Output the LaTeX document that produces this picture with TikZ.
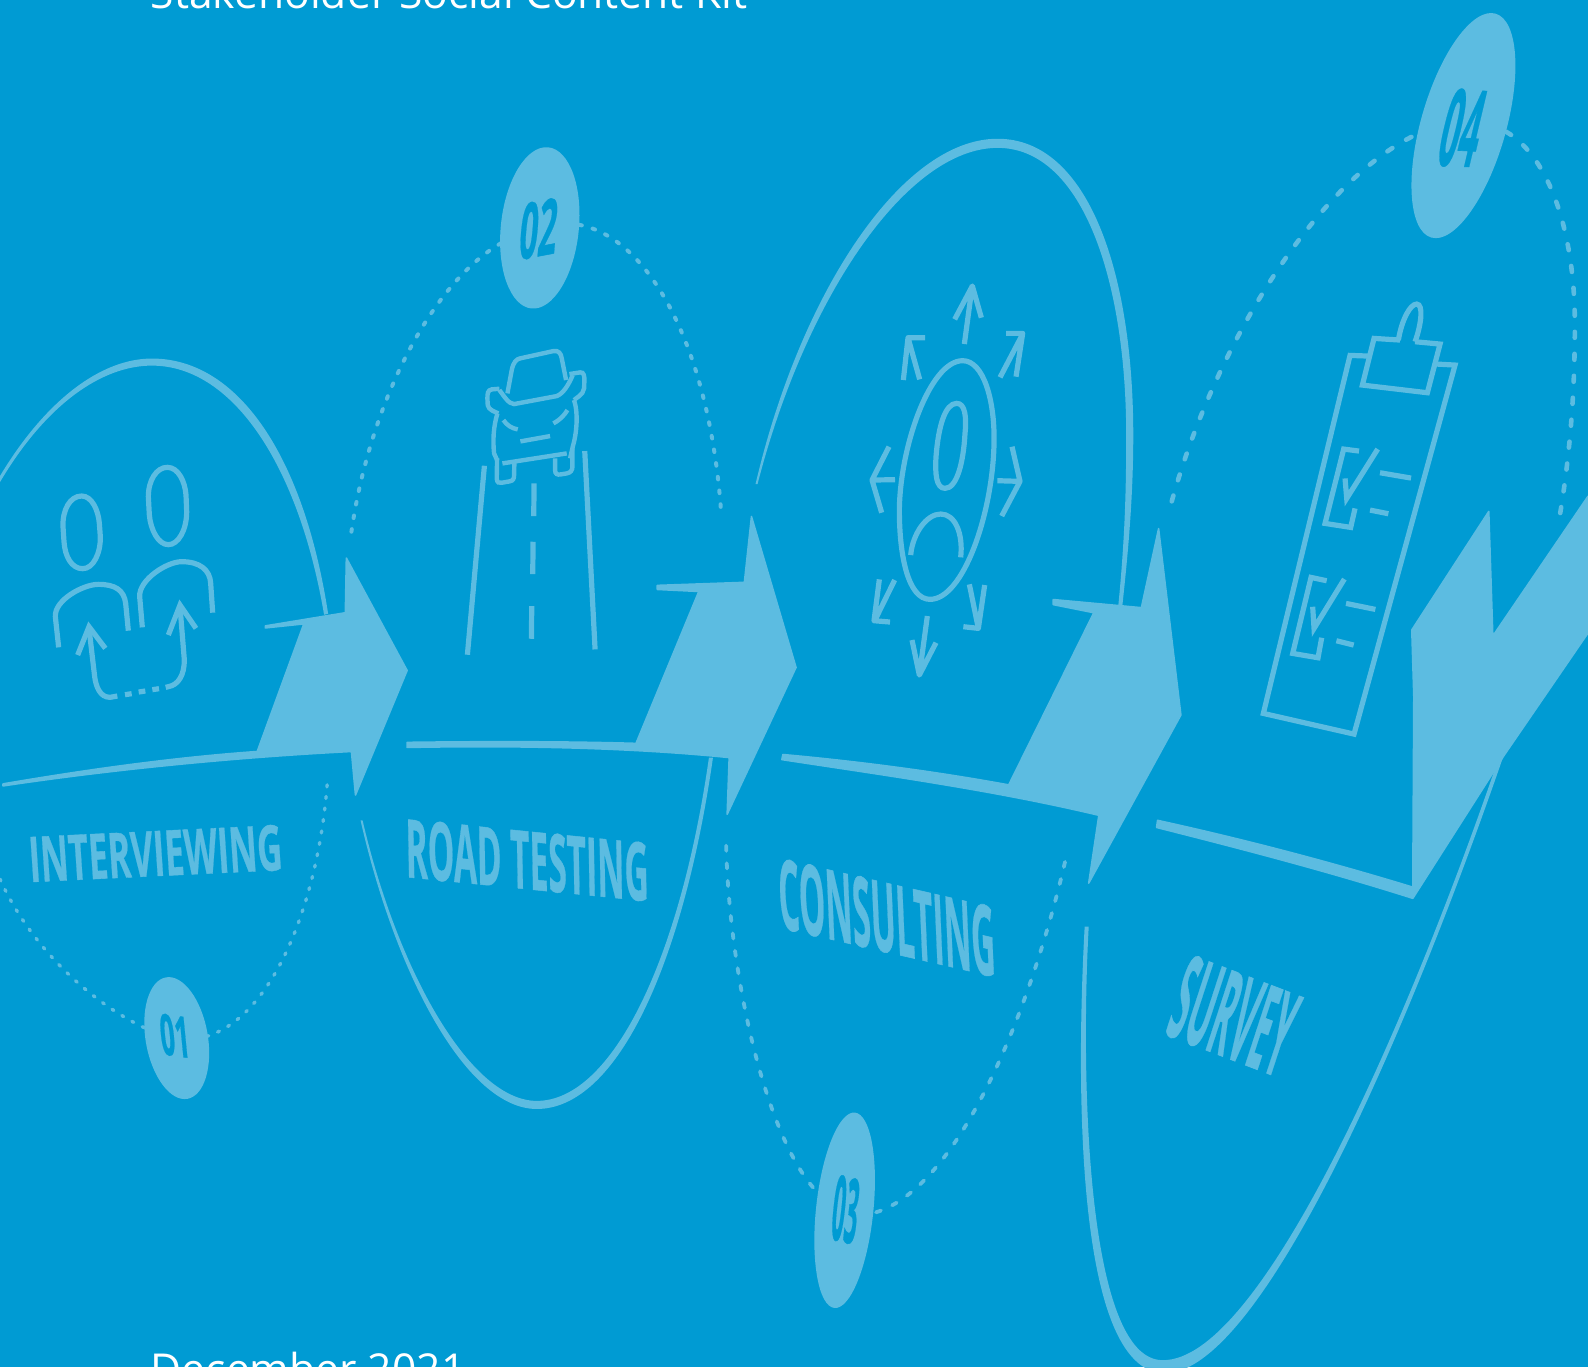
\documentclass[tikz,border=0pt]{standalone}
\usepackage{fontspec}
\setmainfont{Open Sans}
\definecolor{bgblue}{HTML}{009BD3}
\definecolor{lightblue}{HTML}{5CBCE1}
\newsavebox{\skbox}
% name, colour, text, bx0,by0,bx1,by1,ux,uy
\newcommand{\skewlabel}[9]{%
  \sbox{\skbox}{\pgfinterruptpicture\fontsize{20}{24}\selectfont\bfseries\addfontfeatures{FakeBold=0.6}\color{#2}#3\endpgfinterruptpicture}%
  \pgfmathsetmacro{\skA}{0.50637*(#6-#4)/\the\wd\skbox}%
  \pgfmathsetmacro{\skB}{-0.50637*(#7-#5)/\the\wd\skbox}%
  \pgfmathsetmacro{\skC}{0.50637*(#8)/\the\ht\skbox}%
  \pgfmathsetmacro{\skD}{-0.50637*(#9)/\the\ht\skbox}%
  \begin{scope}[cm={\skA,\skB,\skC,\skD,(#4,#5)}]
    \node[transform shape,inner sep=0pt,outer sep=0pt,anchor=base west,text=#2] (#1) at (0,0) {\usebox{\skbox}};
  \end{scope}}
\tikzset{
  icon/.style={draw=lightblue,line width=2.6pt,line join=miter,fill=none},
  iconthin/.style={icon,line width=2.2pt},
  solidshape/.style={fill=lightblue,draw=none},
  arrowshape/.style={fill=lightblue,draw=lightblue,line width=0.8pt,line join=round},
  dotsA/.style={draw=lightblue,line cap=round,line width=1.7pt,dash pattern=on 1pt off 4.8pt},
  dotsB/.style={draw=lightblue,line cap=round,line width=2pt,dash pattern=on 1.3pt off 5.6pt},
  dotsC/.style={draw=lightblue,line cap=round,line width=1.9pt,dash pattern=on 2.6pt off 6.2pt},
  dotsD/.style={draw=lightblue,line cap=round,line width=2.3pt,dash pattern=on 3pt off 8pt},
  badge/.style={fill=lightblue,draw=none},
  whitetext/.style={inner sep=0pt,anchor=base west,text=white,font=\fontsize{21.3}{25}\selectfont}
}
\begin{document}
\begin{tikzpicture}[x=0.50637pt,y=-0.50637pt]
\useasboundingbox (0,0) rectangle (1568,1349.8);
\fill[bgblue] (0,0) rectangle (1568,1349.8);
\clip (0,0) rectangle (1568,1349.8);

% white texts
\node[whitetext] (title) at (148.5,8) {Stakeholder Social Content Kit};
\node[whitetext] (date) at (148.5,1366.7) {December 2021};

% solid arcs
\fill[solidshape] (0,470) .. controls (45,395) and (100,354) .. (150,354) .. controls (235,354) and (300,450) .. (324,606) -- (320,607) .. controls (295,460) and (230,361) .. (150,361) .. controls (100,361) and (45,400) .. (0,476) -- cycle;
\fill[solidshape] (356,810) .. controls (390,960) and (460,1095) .. (530,1095) .. controls (610,1095) and (675,950) .. (704,748) -- (700,748) .. controls (672,945) and (605,1087) .. (530,1087) .. controls (465,1087) and (393,960) .. (358,810) -- cycle;
\fill[solidshape] (746,478) .. controls (790,290) and (890,137) .. (985,137) .. controls (1075,137) and (1119,270) .. (1119,430) .. controls (1119,490) and (1114,545) .. (1108,600) -- (1104,600) .. controls (1111,530) and (1112,480) .. (1112,430) .. controls (1112,280) and (1070,146) .. (985,146) .. controls (895,146) and (795,295) .. (748,478) -- cycle;
\fill[solidshape] (1071,915) .. controls (1063,1060) and (1060,1355) .. (1150,1356) .. controls (1245,1356) and (1390,1020) .. (1484,748) -- (1480,748) .. controls (1388,1016) and (1244,1344) .. (1148,1343) .. controls (1072,1343) and (1067,1060) .. (1075,915) -- cycle;

% dotted arcs
\draw[dotsA] (323,775) .. controls (315,880) and (275,1000) .. (205,1023);
\draw[dotsA] (0,868) .. controls (30,935) and (90,990) .. (143,1015);
\draw[dotsB] (347,525) .. controls (365,400) and (425,280) .. (495,240);
\draw[dotsB] (572,222) .. controls (640,235) and (700,340) .. (712,505);
\draw[dotsC] (717,835) .. controls (720,960) and (755,1120) .. (805,1175);
\draw[dotsC] (865,1197) .. controls (950,1170) and (1020,990) .. (1053,845);
\draw[dotsD] (1157,495) .. controls (1200,340) and (1300,180) .. (1398,133);
\draw[dotsD] (1487,130) .. controls (1530,155) and (1555,230) .. (1555,320) .. controls (1555,390) and (1550,450) .. (1540,510);

% arrows
\filldraw[arrowshape] (262,618) -- (341,605) -- (342,551) -- (402,662) -- (351,785) -- (347,742) .. controls (230,748) and (110,760) .. (3,776) -- (3,774) .. controls (85,760) and (170,748) .. (254,742) -- (300,616) -- (262,620) -- cycle;
\filldraw[arrowshape] (649,578) -- (735,575) -- (742,510) -- (786,659) -- (718,804) -- (720,748) .. controls (620,738) and (510,736) .. (402,738) -- (402,733) .. controls (480,732) and (560,732) .. (628,734) -- (690,584) -- (649,582) -- cycle;
\filldraw[arrowshape] (1040,592) -- (1127,600) -- (1144,522) -- (1166,706) -- (1075,872) -- (1085,805) .. controls (980,780) and (870,765) .. (772,750) -- (773,745) .. controls (850,752) and (925,762) .. (996,775) -- (1080,605) -- (1040,597) -- cycle;
\filldraw[arrowshape] (1470,505) -- (1474,628) -- (1568,490) -- (1568,625) -- (1485,746) -- (1395,887) .. controls (1310,860) and (1225,838) .. (1142,817) -- (1143,810) .. controls (1225,828) and (1310,850) .. (1395,876) -- (1396,688) -- (1394,622) -- cycle;

% badges
\fill[badge] (174.5,1025) ellipse [x radius=30.7,y radius=60.9,rotate=10];
\fill[badge] (533,225) ellipse [x radius=38.5,y radius=80,rotate=-6];
\fill[badge] (834,1195) ellipse [x radius=28.3,y radius=97,rotate=-6];
\fill[badge] (1445,124) ellipse [x radius=42,y radius=115,rotate=-16];

% labels
\skewlabel{lab1}{lightblue}{INTERVIEWING}{30}{871}{280}{859}{-3}{-45}
\skewlabel{lab2}{lightblue}{ROAD TESTING}{401}{866}{641}{890}{-1}{-58}
\skewlabel{lab3}{lightblue}{CONSULTING}{770}{916}{984}{965}{-3}{-70}
\skewlabel{lab4}{lightblue}{SURVEY}{1149}{1021}{1262}{1064}{26}{-80}
\skewlabel{num1}{bgblue}{01}{160}{1041}{189}{1045}{-4}{-41}
\skewlabel{num2}{bgblue}{02}{511}{257}{548}{250}{5}{-56}
\skewlabel{num3}{bgblue}{03}{819}{1223}{844}{1229}{7}{-64}
\skewlabel{num4}{bgblue}{04}{1416}{163}{1454}{165}{18}{-76}

% icon 1 interviewing
\begin{scope}[shift={(0,335.7)},x=0.16667pt,y=-0.16667pt]
\draw[icon] (245,468) .. controls (275,468) and (295,510) .. (298,550) -- (301,590) .. controls (302,640) and (280,686) .. (248,686) .. controls (215,686) and (195,650) .. (192,605) -- (189,560) .. controls (187,510) and (210,468) .. (245,468) -- cycle;
\draw[icon] (502,382) .. controls (535,382) and (555,425) .. (558,465) -- (560,515) .. controls (560,570) and (535,614) .. (505,614) .. controls (475,614) and (452,570) .. (448,525) -- (445,470) .. controls (445,420) and (470,382) .. (502,382) -- cycle;
\draw[icon] (176,922) -- (166,830) .. controls (163,780) and (250,733) .. (295,733) .. controls (345,733) and (372,750) .. (377,790) -- (385,872);
\draw[icon] (427,862) -- (419,770) .. controls (416,720) and (500,665) .. (545,665) .. controls (600,665) and (630,690) .. (632,730) -- (638,818);
\draw[icon] (352,1068) -- (330,1072) .. controls (300,1072) and (288,1040) .. (284,1010) -- (267,865);
\draw[icon] (233,945) -- (267,860) -- (316,925);
\draw[icon] (497,1042) -- (505,1040) .. controls (535,1035) and (553,1005) .. (553,960) -- (540,800);
\draw[icon] (505,885) -- (540,795) -- (588,865);
\draw[icon] (375,1064) -- (395,1061) (416,1056) -- (436,1053) (457,1049) -- (477,1046);
\end{scope}

% icon 2 road
\begin{scope}[shift={(444.4,325.9)},x=0.16667pt,y=-0.16667pt]
\draw[icon] (103,407) -- (52,974);
\draw[icon] (404,363) -- (435,958);
\draw[icon] (252,460) -- (251,558) (249,635) -- (248,732) (245,828) -- (244,926);
\draw[iconthin] (172,190) -- (185,120) .. controls (190,95) and (200,87) .. (210,85) -- (310,63) .. controls (325,60) and (333,70) .. (335,85) -- (348,150);
\draw[iconthin] (148,180) .. controls (160,195) and (175,222) .. (192,222) -- (320,198) .. controls (340,190) and (355,165) .. (368,135);
\draw[iconthin] (148,176) -- (125,178) .. controls (113,180) and (112,190) .. (112,205) -- (113,225) .. controls (115,240) and (135,245) .. (145,250);
\draw[iconthin] (358,132) -- (390,127) .. controls (402,125) and (403,140) .. (403,150) -- (402,175) .. controls (400,195) and (375,205) .. (372,210);
\draw[iconthin] (142,250) .. controls (130,290) and (128,330) .. (132,370) -- (141,390);
\draw[iconthin] (372,210) .. controls (385,250) and (380,310) .. (368,350) -- (360,385);
\draw[iconthin] (157,400) -- (350,370);
\draw[iconthin] (141,385) -- (140,445) .. controls (140,458) and (148,460) .. (155,458) -- (178,454) .. controls (190,452) and (192,445) .. (192,435) -- (193,395);
\draw[iconthin] (315,385) -- (315,420) .. controls (315,432) and (322,435) .. (332,433) -- (350,430) .. controls (362,428) and (367,420) .. (367,410) -- (367,355);
\draw[iconthin] (160,270) .. controls (170,285) and (185,295) .. (203,298);
\draw[iconthin] (352,240) .. controls (340,260) and (325,272) .. (310,280);
\draw[iconthin] (211,334) -- (300,318);
\end{scope}

% icon 3 consulting
\begin{scope}[shift={(839.3,266.6)},x=0.16667pt,y=-0.16667pt]
\draw[icon] (338,272) .. controls (400,272) and (435,390) .. (432,520) .. controls (428,730) and (340,988) .. (240,988) .. controls (175,988) and (148,860) .. (148,720) .. controls (150,530) and (240,272) .. (338,272) -- cycle;
\draw[icon] (320,400) .. controls (345,400) and (350,440) .. (345,490) .. controls (340,580) and (320,655) .. (285,655) .. controls (258,655) and (255,610) .. (258,560) .. controls (265,470) and (285,400) .. (320,400) -- cycle;
\draw[icon] (182,855) .. controls (188,790) and (230,732) .. (272,732) .. controls (315,732) and (340,790) .. (332,862);
\draw[icon,line join=round] (343,222) -- (367,45) (314,148) -- (367,48) -- (394,143);
\draw[icon,line join=round] (450,322) -- (518,192) (468,190) -- (518,190) -- (498,320);
\draw[icon,line join=round] (442,632) -- (510,634) (486,530) -- (510,634) -- (455,738);
\draw[icon,line join=round] (358,943) -- (385,1075) (404,945) -- (385,1075) -- (340,1070);
\draw[icon,line join=round] (232,1038) -- (208,1215) (186,1110) -- (208,1215) -- (258,1118);
\draw[icon,line join=round] (134,930) -- (74,1052) (88,928) -- (72,1052) -- (120,1056);
\draw[icon,line join=round] (135,629) -- (66,630) (117,530) -- (66,630) -- (95,728);
\draw[icon,line join=round] (209,328) -- (174,203) (225,203) -- (174,203) -- (160,330);
\end{scope}

% icon 4 survey
\begin{scope}[shift={(1224.4,286.4)},x=0.16667pt,y=-0.16667pt]
\draw[icon] (385,198) -- (330,196) -- (70,1270) -- (342,1332) -- (645,225) -- (590,222);
\draw[icon] (480,150) -- (402,145) -- (367,285) -- (562,308) -- (600,162) -- (525,155);
\draw[icon] (475,150) .. controls (485,90) and (510,42) .. (530,42) .. controls (550,42) and (545,100) .. (525,155);
\draw[icon] (357,483) -- (311,477) -- (255,700) -- (332,712) -- (345,655);
\draw[icon] (413,477) -- (320,625) -- (315,565);
\draw[icon] (420,548) -- (513,564) (390,660) -- (445,671);
\draw[icon] (260,872) -- (213,862) -- (158,1090) -- (234,1103) -- (245,1043);
\draw[icon] (313,867) -- (222,1015) -- (218,950);
\draw[icon] (318,940) -- (406,958) (289,1052) -- (341,1065);
\end{scope}
\end{tikzpicture}
\end{document}
